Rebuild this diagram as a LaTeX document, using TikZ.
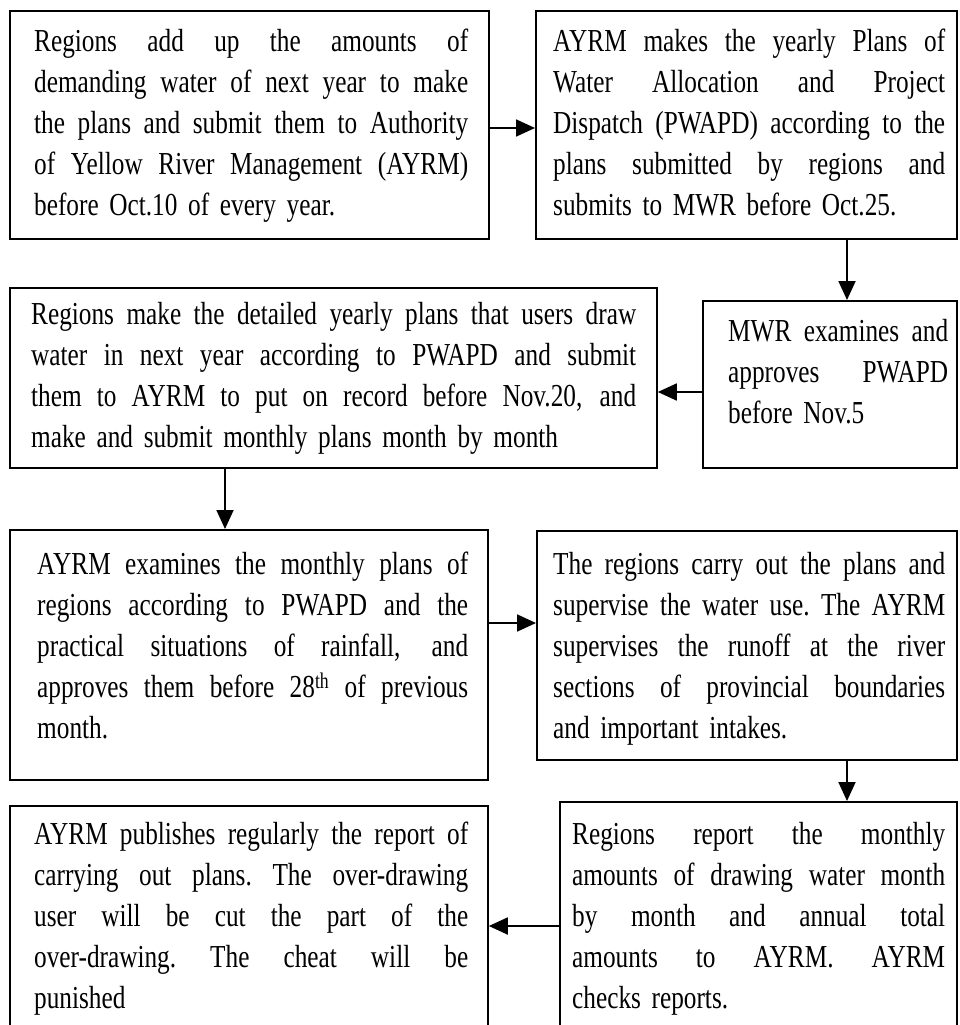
\documentclass[tikz,border=0pt]{standalone}
\usepackage{fontspec}
\setmainfont{Liberation Serif}[FakeStretch=0.79]
\usetikzlibrary{arrows.meta}
\newcommand{\TW}{0pt}
\newcommand{\J}[1]{\leavevmode\hbox to \TW{\spaceskip=6.5pt plus 40pt minus 2pt\relax\xspaceskip=\spaceskip #1}}
\newcommand{\FS}{\rule{0pt}{30pt}}
\tikzset{
  box/.style={draw, line width=1.8pt, inner sep=0pt, anchor=north west},
  txt/.style={anchor=north west, inner sep=0pt, align=left,
    font=\fontsize{32pt}{41pt}\selectfont, text width=#1},
  arr/.style={line width=1.8pt, -{Triangle[length=19pt,width=17pt]}}
}
\begin{document}
\begin{tikzpicture}[x=1pt,y=-1pt]
\clip (0,0) rectangle (959,1025);
\fill[white] (0,0) rectangle (959,1025);
% boxes
\node[box, minimum width=479pt, minimum height=228pt] (A) at (9,10) {};
\node[box, minimum width=421pt, minimum height=228pt] (B) at (535,10) {};
\node[box, minimum width=254pt, minimum height=167pt] (C) at (702,300) {};
\node[box, minimum width=647pt, minimum height=180pt] (D) at (9,287) {};
\node[box, minimum width=478pt, minimum height=250pt] (E) at (9,529) {};
\node[box, minimum width=420pt, minimum height=229pt] (F) at (536,530) {};
\node[box, minimum width=397pt, minimum height=260pt] (G) at (559,801) {};
\node[box, minimum width=478pt, minimum height=260pt] (H) at (9,805) {};
% texts
\node[txt=434pt] (At) at (34,21) {\def\TW{434pt}\FS\J{Regions add up the amounts of}\\
\J{demanding water of next year to make}\\
\J{the plans and submit them to Authority}\\
\J{of Yellow River Management (AYRM)}\\
before Oct.10 of every year.};
\node[txt=392pt] (Bt) at (553,21) {\def\TW{392pt}\FS\J{AYRM makes the yearly Plans of}\\
\J{Water Allocation and Project}\\
\J{Dispatch (PWAPD) according to the}\\
\J{plans submitted by regions and}\\
submits to MWR before Oct.25.};
\node[txt=220pt] (Ct) at (728,311) {\def\TW{220pt}\FS\J{MWR examines and}\\
\J{approves PWAPD}\\
before Nov.5};
\node[txt=605pt] (Dt) at (31,294) {\def\TW{605pt}\FS\J{Regions make the detailed yearly plans that users draw}\\
\J{water in next year according to PWAPD and submit}\\
\J{them to AYRM to put on record before Nov.20, and}\\
make and submit monthly plans month by month};
\node[txt=431pt] (Et) at (37,544) {\def\TW{431pt}\FS\J{AYRM examines the monthly plans of}\\
\J{regions according to PWAPD and the}\\
\J{practical situations of rainfall, and}\\
\J{approves them before 28\textsuperscript{th} of previous}\\
month.};
\node[txt=392pt] (Ft) at (553,544) {\def\TW{392pt}\FS\J{The regions carry out the plans and}\\
\J{supervise the water use. The AYRM}\\
\J{supervises the runoff at the river}\\
\J{sections of provincial boundaries}\\
and important intakes.};
\node[txt=373pt] (Gt) at (572,814) {\def\TW{373pt}\FS\J{Regions report the monthly}\\
\J{amounts of drawing water month}\\
\J{by month and annual total}\\
\J{amounts to AYRM. AYRM}\\
checks reports.};
\node[txt=434pt] (Ht) at (34,814) {\def\TW{434pt}\FS\J{AYRM publishes regularly the report of}\\
\J{carrying out plans. The over-drawing}\\
\J{user will be cut the part of the}\\
\J{over-drawing. The cheat will be}\\
punished};
% connector guides
\coordinate (yAB) at (0,128);
\coordinate (xBC) at (847,0);
\coordinate (yCD) at (0,392);
\coordinate (xDE) at (225,0);
\coordinate (yEF) at (0,623);
\coordinate (yGH) at (0,926);
% connectors
\draw[arr] (A.east |- yAB) -- (B.west |- yAB);
\draw[arr] (B.south -| xBC) -- (C.north -| xBC);
\draw[arr] (C.west |- yCD) -- (D.east |- yCD);
\draw[arr] (D.south -| xDE) -- (E.north -| xDE);
\draw[arr] (E.east |- yEF) -- (F.west |- yEF);
\draw[arr] (F.south -| xBC) -- (G.north -| xBC);
\draw[arr] (G.west |- yGH) -- (H.east |- yGH);
\end{tikzpicture}
\end{document}
